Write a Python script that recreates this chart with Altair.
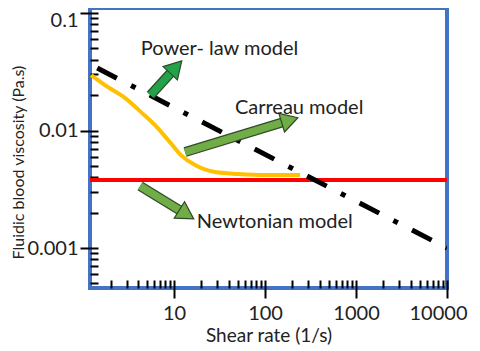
import altair as alt
import pandas as pd

# ---- data ----
power_x = [1.43, 10000]
power_y = [0.034, 0.001]

newton_x = [1.19, 10000]
newton_y = [0.00379, 0.00379]

carreau_x = [1.225, 1.88, 2.90, 4.34, 6.18, 8.59, 11.9, 17.0, 28.2, 50.5, 100, 243]
carreau_y = [0.0297, 0.0234, 0.0189, 0.01435, 0.0111, 0.0083, 0.00618, 0.00508,
             0.00443, 0.00427, 0.00418, 0.00418]

label_names = ["Power- law model", "Carreau model", "Newtonian model"]
label_x = [31.6, 237, 128]
label_y = [0.0494, 0.0155, 0.00166]

arrow_names = ["power", "carreau", "newton"]
arrow_tail_x = [5.5, 13.2, 4.23]
arrow_tail_y = [0.0200, 0.00656, 0.00337]
arrow_head_x = [10.0, 174.6, 12.9]
arrow_head_y = [0.0333, 0.01205, 0.00199]
arrow_angle = [43, 73, 122]
arrow_fill = ["#22A34A", "#70AD47", "#70AD47"]

x_major = [10, 100, 1000, 10000]
x_minor = [2, 3, 4, 5, 6, 7, 8, 9, 20, 30, 40, 50, 60, 70, 80, 90,
           200, 300, 400, 500, 600, 700, 800, 900,
           2000, 3000, 4000, 5000, 6000, 7000, 8000, 9000]
y_major = [0.001, 0.01, 0.1]
y_minor = [0.0005, 0.0006, 0.0007, 0.0008, 0.0009,
           0.002, 0.003, 0.004, 0.005, 0.006, 0.007, 0.008, 0.009,
           0.02, 0.03, 0.04, 0.05, 0.06, 0.07, 0.08, 0.09]

X_DOMAIN = [1.19, 10000]
Y_DOMAIN = [0.000457, 0.1104]
FONT = "Lato"

xs = alt.Scale(type="log", domain=X_DOMAIN, nice=False)
ys = alt.Scale(type="log", domain=Y_DOMAIN, nice=False)

major_test = "abs(log(datum.value)/LN10 - round(log(datum.value)/LN10)) < 0.001"

x_axis = alt.Axis(
    values=x_major + x_minor, title="Shear rate (1/s)", domain=False, grid=False,
    offset=-8, tickColor="black", tickWidth=2,
    tickSize={"condition": {"test": major_test, "value": 18}, "value": 8},
    labelExpr=f"({major_test}) ? format(datum.value, 'd') : ''",
    labelFont=FONT, labelFontSize=20, labelColor="#222", labelPadding=5,
    labelFlush=True, labelFlushOffset=20,
    titleFont=FONT, titleFontSize=19, titleFontWeight="normal", titleColor="#222",
    titlePadding=3,
)
y_axis = alt.Axis(
    values=y_major + y_minor, title="Fluidic blood viscosity (Pa.s)", domain=False,
    grid=False, offset=-8, tickColor="black", tickWidth=2,
    tickSize={"condition": {"test": major_test, "value": 18}, "value": 8},
    labelExpr=f"({major_test}) ? format(datum.value, '~g') : ''",
    labelFont=FONT, labelFontSize=20, labelColor="#222", labelPadding=2,
    labelFlush=6, labelFlushOffset=3,
    titleFont=FONT, titleFontSize=16, titleFontWeight="normal", titleColor="#222",
    titlePadding=0, titleY=154,
)

power_df = pd.DataFrame({"x": power_x, "y": power_y})
newton_df = pd.DataFrame({"x": newton_x, "y": newton_y})
carreau_df = pd.DataFrame({"x": carreau_x, "y": carreau_y})
label_df = pd.DataFrame({"name": label_names, "x": label_x, "y": label_y})

shaft_rows = []
for i, n in enumerate(arrow_names):
    shaft_rows.append({"arrow": n, "order": 0, "x": arrow_tail_x[i], "y": arrow_tail_y[i]})
    shaft_rows.append({"arrow": n, "order": 1, "x": arrow_head_x[i], "y": arrow_head_y[i]})
shaft_df = pd.DataFrame(shaft_rows)
head_df = pd.DataFrame({"arrow": arrow_names, "x": arrow_head_x, "y": arrow_head_y,
                        "angle": arrow_angle})
arrow_color = alt.Color("arrow:N", scale=alt.Scale(domain=arrow_names, range=arrow_fill),
                        legend=None)

base_x = alt.X("x:Q", scale=xs, axis=x_axis)
base_y = alt.Y("y:Q", scale=ys, axis=y_axis)

newton = alt.Chart(newton_df).mark_line(color="#FF0000", strokeWidth=4, clip=True).encode(
    x=base_x, y=base_y)
carreau = alt.Chart(carreau_df).mark_line(
    color="#FFC000", strokeWidth=4, interpolate="monotone", clip=True).encode(
    x=alt.X("x:Q", scale=xs), y=alt.Y("y:Q", scale=ys))
power = alt.Chart(power_df).mark_line(
    color="black", strokeWidth=5, strokeDash=[22, 16, 5, 16], clip=True).encode(
    x=alt.X("x:Q", scale=xs), y=alt.Y("y:Q", scale=ys))

shaft_out = alt.Chart(shaft_df).mark_line(strokeWidth=10, color="#2F4A2A").encode(
    x=alt.X("x:Q", scale=xs), y=alt.Y("y:Q", scale=ys), detail="arrow:N", order="order:Q")
shaft_in = alt.Chart(shaft_df).mark_line(strokeWidth=7.5).encode(
    x=alt.X("x:Q", scale=xs), y=alt.Y("y:Q", scale=ys), color=arrow_color, order="order:Q")
heads = alt.Chart(head_df).mark_point(
    shape="triangle", filled=True, size=380, opacity=1, stroke="#2F4A2A",
    strokeWidth=1.2).encode(
    x=alt.X("x:Q", scale=xs), y=alt.Y("y:Q", scale=ys), color=arrow_color,
    angle=alt.Angle("angle:Q", scale=None))

labels = alt.Chart(label_df).mark_text(
    font=FONT, fontSize=20, color="#222").encode(
    x=alt.X("x:Q", scale=xs), y=alt.Y("y:Q", scale=ys), text="name:N")

chart = alt.layer(newton, carreau, power, shaft_out, shaft_in, heads, labels).properties(
    width=357, height=280,
    background="white",
    autosize=alt.AutoSizeParams(type="none"),
    padding={"left": 82, "top": 0, "right": 25, "bottom": 60},
).configure_view(stroke="#4472C4", strokeWidth=4)

chart.save("out.html", embed_options={"renderer": "svg", "actions": False})
